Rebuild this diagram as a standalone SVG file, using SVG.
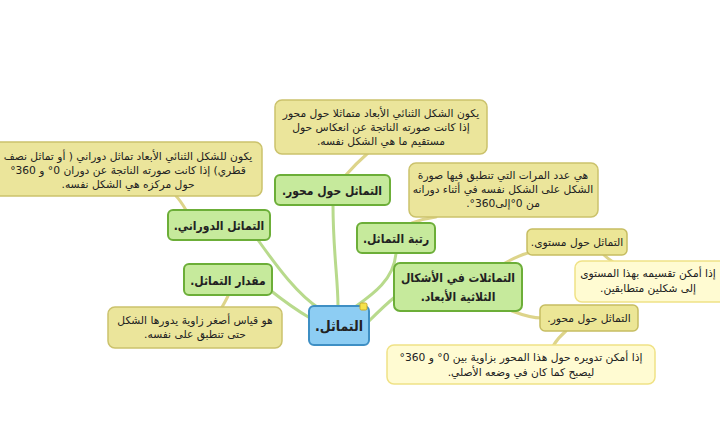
<svg xmlns="http://www.w3.org/2000/svg" width="720" height="444" viewBox="0 0 720 444">
<style>
text{font-family:"DejaVu Sans","Noto Sans",sans-serif;direction:rtl;unicode-bidi:embed;text-anchor:middle;fill:#222}
.g rect{fill:#c6ea9c;stroke:#6cae38;stroke-width:2}
.g text{font-family:"DejaVu Sans Condensed","DejaVu Sans",sans-serif;font-size:12px;font-weight:bold}
.c rect{fill:#ebe59b;stroke:#cbc26c;stroke-width:1.5}
.c text{font-size:10.7px}
.n rect{fill:#ece696;stroke:#c6bd62;stroke-width:1.5}
.n text{font-size:10.7px}
.l rect{fill:#fffbd2;stroke:#f0e286;stroke-width:1.5}
.l text{font-size:10.7px}
.e path{fill:none;stroke-linecap:round}
.eg{stroke:#b8da8c;stroke-width:3}
.ey{stroke:#ddd48a;stroke-width:3}
</style>
<rect width="720" height="444" fill="#ffffff"/>
<g id="connectors" class="e">
<path class="eg" d="M333,205 C333,250 338,280 338,306"/>
<path class="eg" d="M258,240 C278,268 298,295 320,309"/>
<path class="eg" d="M270,290 C285,302 298,311 310,318"/>
<path class="eg" d="M396,253 C394,280 372,295 355,307"/>
<path class="eg" d="M396,296 C385,305 375,315 368,322"/>
<path class="ey" d="M505,263 C514,258 522,254 532,252"/>
<path class="ey" d="M512,311 C525,316 533,318 542,318"/>
<path class="ey" d="M604,255 C607,258 610,260 613,262"/>
<path class="ey" d="M566,331 C560,336 556,341 553,346"/>
<path class="ey" d="M345,176 C352,168 360,160 368,153"/>
<path class="ey" d="M186,210 C183,205 180,200 176,196"/>
<path class="ey" d="M412,223 C420,220 428,218 436,217"/>
<path class="ey" d="M228,296 C226,300 224,304 222,307"/>
</g>
<g id="callout-axis" class="c">
<rect x="275" y="100" width="212" height="54" rx="7"/>
<text x="381" y="117">يكون الشكل الثنائي الأبعاد متماثلا حول محور</text>
<text x="381" y="131">إذا كانت صورته الناتجة عن انعكاس حول</text>
<text x="381" y="145">مستقيم ما هي الشكل نفسه.</text>
</g>
<g id="callout-rot" class="c">
<rect x="-8" y="142" width="270" height="54" rx="7"/>
<text x="128" y="160">يكون للشكل الثنائي الأبعاد تماثل دوراني ( أو تماثل نصف</text>
<text x="128" y="174">قطري) إذا كانت صورته الناتجة عن دوران 0° و 360°</text>
<text x="128" y="188">حول مركزه هي الشكل نفسه.</text>
</g>
<g id="callout-order" class="c">
<rect x="409" y="163" width="189" height="54" rx="7"/>
<text x="503" y="179">هي عدد المرات التي تنطبق فيها صورة</text>
<text x="503" y="193">الشكل على الشكل نفسه في أثناء دورانه</text>
<text x="503" y="207">من 0°إلى360°.</text>
</g>
<g id="callout-size" class="c">
<rect x="108" y="307" width="174" height="41" rx="7"/>
<text x="195" y="324">هو قياس أصغر زاوية يدورها الشكل</text>
<text x="195" y="338">حتى تنطبق على نفسه.</text>
</g>
<g id="callout-plane" class="l">
<rect x="575" y="261" width="152" height="41" rx="7"/>
<text x="648" y="277">إذا أمكن تقسيمه بهذا المستوى</text>
<text x="648" y="292">إلى شكلين متطابقين.</text>
</g>
<g id="callout-axis3d" class="l">
<rect x="387" y="345" width="268" height="39" rx="7"/>
<text x="521" y="361">إذا أمكن تدويره حول هذا المحور بزاوية بين 0° و 360°</text>
<text x="521" y="376">ليصبح كما كان في وضعه الأصلي.</text>
</g>
<g id="node-axis" class="g">
<rect x="275" y="175" width="115" height="30" rx="5"/>
<text x="332" y="195">التماثل حول محور.</text>
</g>
<g id="node-rot" class="g">
<rect x="168" y="210" width="102" height="30" rx="5"/>
<text x="219" y="230">التماثل الدوراني.</text>
</g>
<g id="node-order" class="g">
<rect x="357" y="223" width="78" height="30" rx="5"/>
<text x="396" y="243">رتبة التماثل.</text>
</g>
<g id="node-size" class="g">
<rect x="184" y="264" width="88" height="31" rx="5"/>
<text x="228" y="285">مقدار التماثل.</text>
</g>
<g id="node-3d" class="g">
<rect x="394" y="263" width="128" height="48" rx="6"/>
<text x="458" y="282">التماثلات في الأشكال</text>
<text x="458" y="301">الثلاثية الأبعاد.</text>
</g>
<g id="node-plane" class="n">
<rect x="527" y="229" width="100" height="26" rx="5"/>
<text x="577" y="246">التماثل حول مستوى.</text>
</g>
<g id="node-axis2" class="n">
<rect x="540" y="305" width="98" height="26" rx="5"/>
<text x="589" y="322">التماثل حول محور.</text>
</g>
<g id="node-center">
<rect x="309" y="306" width="60" height="39" rx="5" fill="#8dcdf3" stroke="#3e8fc4" stroke-width="2"/>
<text x="339" y="331" style="font-family:'DejaVu Sans Condensed','DejaVu Sans',sans-serif;font-size:14px;font-weight:bold">التماثل.</text>
<rect x="360" y="303" width="7" height="7" rx="1.5" fill="#f5e24a" stroke="#c9a92a" stroke-width="1"/>
</g>
</svg>
